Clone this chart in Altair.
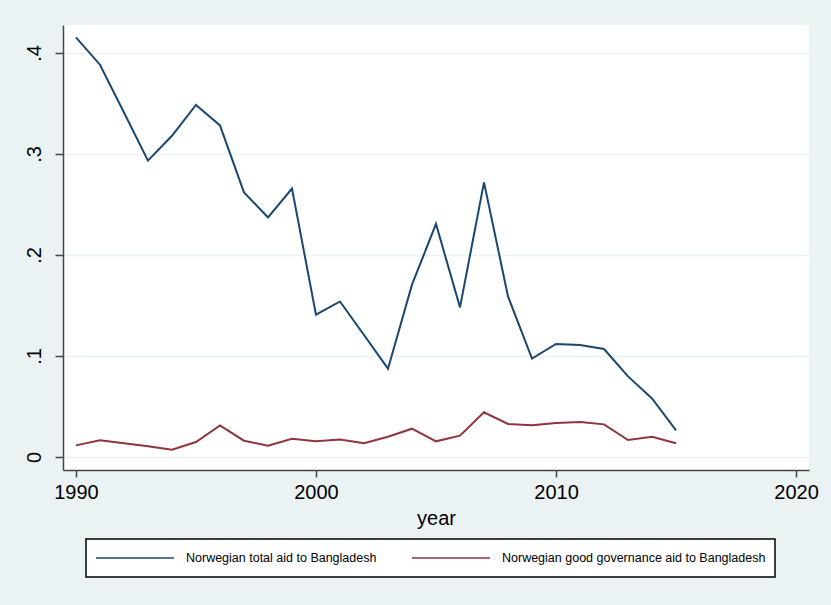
import altair as alt
import pandas as pd

years = list(range(1990, 2016))

total_aid = [0.4155, 0.3884, 0.341, 0.2934, 0.318, 0.3485, 0.3283, 0.262, 0.2372, 0.2657,
             0.1409, 0.154, 0.1208, 0.0874, 0.1706, 0.2307, 0.1481, 0.2719, 0.159, 0.0975,
             0.1119, 0.1109, 0.1069, 0.0798, 0.058, 0.0263]

governance_aid = [0.0115, 0.0165, 0.0135, 0.0105, 0.0072, 0.0148, 0.0313, 0.0161, 0.0112, 0.0181,
                  0.0155, 0.0174, 0.0135, 0.0201, 0.0280, 0.0155, 0.0211, 0.0442, 0.0327, 0.0313,
                  0.0336, 0.0346, 0.0323, 0.0168, 0.0201, 0.0135]

series_names = ["Norwegian total aid to Bangladesh",
                "Norwegian good governance aid to Bangladesh"]
series_colors = ["#1a476f", "#90353b"]

x_ticks = [1990, 2000, 2010, 2020]
y_ticks = [0, 0.1, 0.2, 0.3, 0.4]

df = pd.DataFrame({
    "year": years * 2,
    "value": total_aid + governance_aid,
    "series": [series_names[0]] * len(years) + [series_names[1]] * len(years),
})

FONT = "Liberation Sans"
BG = "#EAF2F3"

chart = alt.Chart(df).mark_line(strokeWidth=2).encode(
    x=alt.X("year:Q",
            scale=alt.Scale(domain=[1989.46, 2020.54], nice=False, zero=False),
            axis=alt.Axis(values=x_ticks, format="d", title="year", grid=False,
                          tickSize=7, labelPadding=5, titlePadding=6)),
    y=alt.Y("value:Q",
            scale=alt.Scale(domain=[-0.0129, 0.4277], nice=False, zero=False),
            axis=alt.Axis(values=y_ticks, title=None, grid=True,
                          labelAngle=270, labelAlign="center", labelBaseline="bottom",
                          tickSize=8, labelPadding=11,
                          labelExpr="datum.value == 0 ? '0' : replace(format(datum.value, '.1f'), '0.', '.')")),
    color=alt.Color("series:N",
                    scale=alt.Scale(domain=series_names, range=series_colors),
                    legend=alt.Legend(orient="none", legendX=23, legendY=514,
                                      direction="horizontal", columns=2, title=None,
                                      symbolType="stroke", symbolSize=6084,
                                      symbolStrokeWidth=1.5, clipHeight=20,
                                      labelFontSize=12.5, labelOffset=11, labelLimit=400,
                                      columnPadding=34, padding=9,
                                      strokeColor="black", fillColor="white")),
).properties(
    width=746,
    height=445,
    background=BG,
    padding={"left": 63, "top": 25, "right": 22, "bottom": 135},
    autosize=alt.AutoSizeParams(type="none"),
).configure_view(
    fill="white", stroke=None
).configure_axis(
    domainColor="#444444", domainWidth=1.5, tickColor="#444444", tickWidth=1.5,
    labelFont=FONT, labelFontSize=20, labelColor="black",
    titleFont=FONT, titleFontSize=20, titleColor="black", titleFontWeight="normal",
    gridColor=BG, gridWidth=1.5,
).configure_legend(
    labelFont=FONT, labelColor="black", strokeWidth=1.5
)

chart.save("out.html", embed_options={"renderer": "svg", "actions": False})
